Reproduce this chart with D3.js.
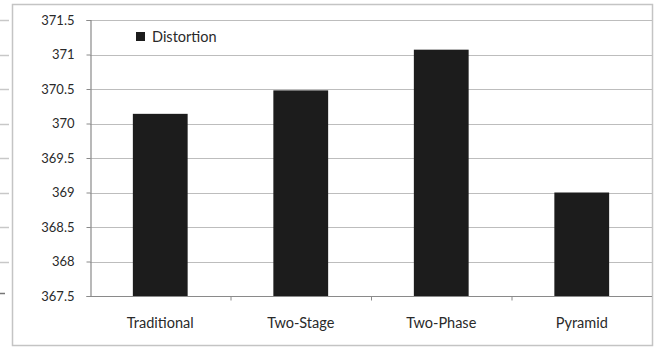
<!DOCTYPE html>
<html>
<head>
<meta charset="utf-8">
<script src="https://cdn.jsdelivr.net/npm/d3@7/dist/d3.min.js"></script>
<style>
  html, body { margin: 0; padding: 0; background: #fff; }
  svg { display: block; }
  text { font-family: Lato, "Open Sans", sans-serif; fill: #2a2a2a; }
</style>
</head>
<body>
<svg id="chart" width="658" height="349"></svg>
<script>
// Distortion per method
const categories = ["Traditional", "Two-Stage", "Two-Phase", "Pyramid"];
const distortion = [370.14, 370.48, 371.07, 369.0];
const yTicks = [367.5, 368, 368.5, 369, 369.5, 370, 370.5, 371, 371.5];
const seriesName = "Distortion";

const plot = { left: 90, right: 652, top: 20, bottom: 296 };

const svg = d3.select("#chart");

const y = d3.scaleLinear().domain([367.5, 371.5]).range([plot.bottom, plot.top]);
const x = d3.scaleBand().domain(categories).range([plot.left, plot.right])
  .paddingInner(0.61).paddingOuter(0.305);
const xb = d3.scaleBand().domain(categories).range([plot.left, plot.right]);

// neighbouring panel edge on the far left
svg.append("g").selectAll("line").data(yTicks.slice(1)).join("line")
  .attr("x1", 0).attr("x2", 9)
  .attr("y1", d => Math.round(y(d)) + 0.5).attr("y2", d => Math.round(y(d)) + 0.5)
  .attr("stroke", "#c8c8c8").attr("stroke-width", 1.5);
svg.append("line").attr("x1", 0).attr("x2", 5)
  .attr("y1", Math.round(y(367.5)) - 2.5).attr("y2", Math.round(y(367.5)) - 2.5)
  .attr("stroke", "#777").attr("stroke-width", 1.5);

// outer chart frame
svg.append("rect")
  .attr("x", 12.5).attr("y", 4.5).attr("width", 640).attr("height", 341)
  .attr("fill", "none").attr("stroke", "#c4c4c4").attr("stroke-width", 1.5);

// horizontal gridlines
svg.append("g").selectAll("line").data(yTicks.slice(1)).join("line")
  .attr("x1", plot.left).attr("x2", plot.right)
  .attr("y1", d => Math.round(y(d)) + 0.5).attr("y2", d => Math.round(y(d)) + 0.5)
  .attr("stroke", "#bdbdbd").attr("stroke-width", 1.2);

// bars
svg.append("g").selectAll("rect").data(categories).join("rect")
  .attr("x", d => x(d))
  .attr("width", x.bandwidth())
  .attr("y", (d, i) => y(distortion[i]))
  .attr("height", (d, i) => plot.bottom - y(distortion[i]))
  .attr("fill", "#1c1c1c");

// y axis
const yAxis = d3.axisLeft(y).tickValues(yTicks).tickSize(4).tickPadding(12)
  .tickFormat(d => String(d));
const gy = svg.append("g").attr("transform", `translate(${plot.left + 0.5},0)`).call(yAxis);
gy.select(".domain").attr("stroke", "#8a8a8a").attr("stroke-width", 1.2);
gy.selectAll(".tick line").attr("stroke", "#8a8a8a");
gy.selectAll(".tick text").attr("font-size", 13).style("fill", "#2a2a2a")
  .attr("font-family", "Lato, sans-serif");

// x axis with ticks on band boundaries
const gx = svg.append("g").attr("transform", `translate(0,${plot.bottom + 0.5})`);
gx.append("line").attr("x1", plot.left).attr("x2", plot.right)
  .attr("stroke", "#8a8a8a").attr("stroke-width", 1.2);
gx.selectAll("line.tk").data(categories.slice(1)).join("line")
  .attr("class", "tk")
  .attr("x1", d => xb(d) + 0.5).attr("x2", d => xb(d) + 0.5)
  .attr("y1", 0).attr("y2", 4)
  .attr("stroke", "#8a8a8a");
gx.selectAll("text").data(categories).join("text")
  .attr("x", d => xb(d) + xb.bandwidth() / 2)
  .attr("y", 31)
  .attr("text-anchor", "middle")
  .attr("font-size", 14.5)
  .text(d => d);

// legend
const lg = svg.append("g").attr("transform", "translate(136,32)");
lg.append("rect").attr("x", -2).attr("y", -10).attr("width", 112).attr("height", 26).attr("fill", "#fff");
lg.append("rect").attr("width", 9).attr("height", 9).attr("fill", "#1c1c1c");
lg.append("text").attr("x", 16).attr("y", 9.5).attr("font-size", 14.5).text(seriesName);
</script>
</body>
</html>
